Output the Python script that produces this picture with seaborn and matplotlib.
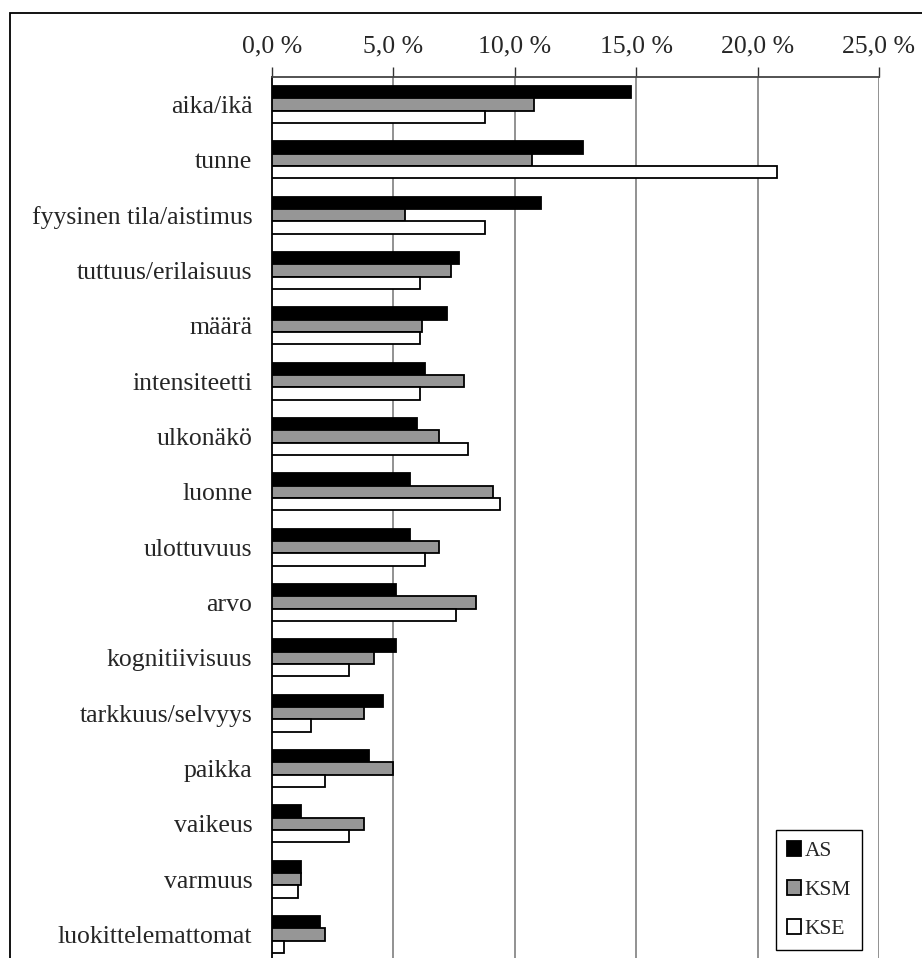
import matplotlib
matplotlib.use('Agg')
import matplotlib.pyplot as plt
from matplotlib.patches import Patch, Rectangle
from matplotlib.ticker import FuncFormatter, FixedLocator
import seaborn as sns
import numpy as np
import pandas as pd

kategoriat = ['aika/ikä', 'tunne', 'fyysinen tila/aistimus', 'tuttuus/erilaisuus',
              'määrä', 'intensiteetti', 'ulkonäkö', 'luonne', 'ulottuvuus', 'arvo',
              'kognitiivisuus', 'tarkkuus/selvyys', 'paikka', 'vaikeus', 'varmuus',
              'luokittelemattomat']
sarjat = ['AS', 'KSM', 'KSE']

# osuudet prosentteina
AS = [14.8, 12.8, 11.1, 7.7, 7.2, 6.3, 6.0, 5.7, 5.7, 5.1, 5.1, 4.6, 4.0, 1.2, 1.2, 2.0]
KSM = [10.8, 10.7, 5.5, 7.4, 6.2, 7.9, 6.9, 9.1, 6.9, 8.4, 4.2, 3.8, 5.0, 3.8, 1.2, 2.2]
KSE = [8.8, 20.8, 8.8, 6.1, 6.1, 6.1, 8.1, 9.4, 6.3, 7.6, 3.2, 1.6, 2.2, 3.2, 1.1, 0.5]
varit = ['black', '#969696', 'white']

df = pd.DataFrame({
    'kategoria': kategoriat * 3,
    'osuus': AS + KSM + KSE,
    'aineisto': np.repeat(sarjat, len(kategoriat)),
})

sns.set_style('white')
plt.rcParams['font.family'] = ['Liberation Serif', 'DejaVu Serif']

W, H = 922, 958
fig = plt.figure(figsize=(W / 100, H / 100), dpi=100)
ax = fig.add_axes([271.7 / W, -4 / H, (879 - 271.7) / W, 885 / H])

sns.barplot(data=df, y='kategoria', x='osuus', hue='aineisto', orient='h',
            palette=varit, saturation=1, edgecolor='black', linewidth=1.3,
            width=0.67, legend=False, ax=ax, zorder=3)

ax.set_xlim(0, 25)
ax.set_ylim(len(kategoriat) - 0.5, -0.5)
ax.set_xlabel('')
ax.set_ylabel('')

# x-akseli ylhäällä
ax.xaxis.tick_top()
ax.set_xticks(np.arange(0, 26, 5))
ax.xaxis.set_major_formatter(FuncFormatter(lambda v, p: f'{v:.1f} %'.replace('.', ',')))
ax.tick_params(axis='x', direction='out', length=7, width=1, color='#333333',
               pad=7, labelsize=18.5)
for v in range(5, 26, 5):
    ax.axvline(v, color='#7f7f7f', lw=1.2, zorder=1)

# y-akselin väkäset ryhmien välissä
ax.tick_params(axis='y', which='major', length=0, pad=14, labelsize=18.5)
ax.yaxis.set_minor_locator(FixedLocator(np.arange(-0.5, len(kategoriat), 1)))
ax.tick_params(axis='y', which='minor', direction='out', length=7, width=1, color='#333333')

for s in ['right', 'bottom']:
    ax.spines[s].set_visible(False)
ax.spines['left'].set_color('black')
ax.spines['left'].set_linewidth(1.3)
ax.spines['top'].set_color('#444444')
ax.spines['top'].set_linewidth(1.3)

handles = [Patch(facecolor=c, edgecolor='black', linewidth=1.3) for c in varit]
leg = ax.legend(handles, sarjat, loc='lower right', bbox_to_anchor=(862 / W, 1 - 950 / H),
                bbox_transform=fig.transFigure, borderaxespad=0, frameon=True,
                fancybox=False, framealpha=1, edgecolor='black', fontsize=15.5,
                handlelength=0.65, handleheight=0.65, handletextpad=0.2,
                labelspacing=0.9, borderpad=0.5)
leg.get_frame().set_linewidth(1.0)

# kehys kuvan ympärillä
fig.patches.append(Rectangle((10 / W, -0.1), 1.2, 1.1 - 13 / H, transform=fig.transFigure,
                             fill=False, edgecolor='black', linewidth=1.3))

fig.savefig('out.png', dpi=100)
